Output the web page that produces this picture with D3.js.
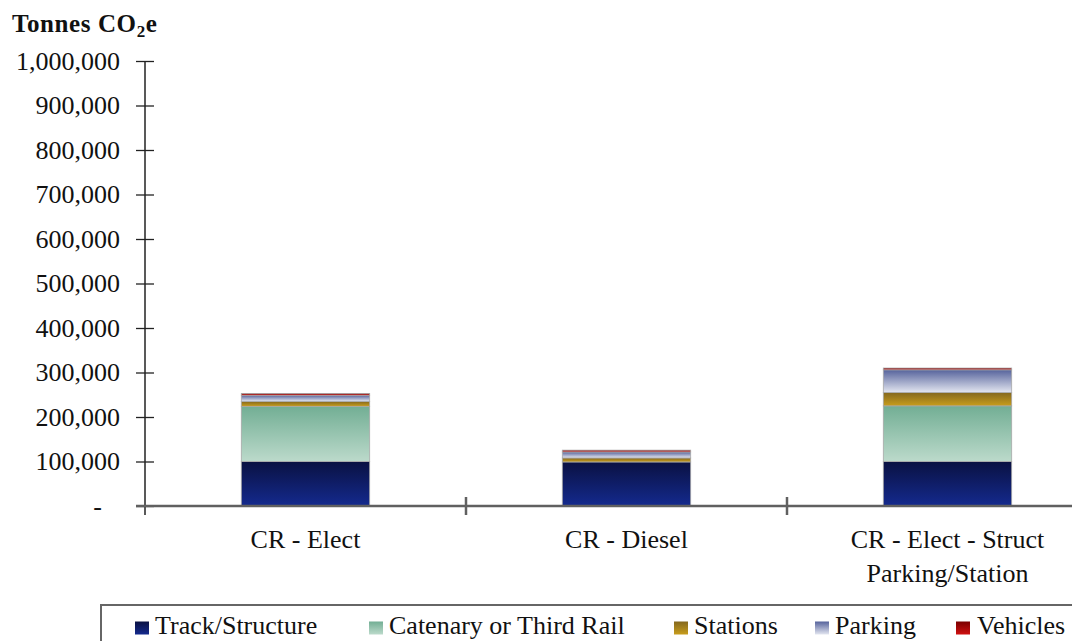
<!DOCTYPE html>
<html>
<head>
<meta charset="utf-8">
<script src="https://cdn.jsdelivr.net/npm/d3@7/dist/d3.min.js"></script>
<style>
  html, body { margin: 0; padding: 0; background: #fff; }
  svg { display: block; font-family: "Liberation Serif", "Times New Roman", serif; }
</style>
</head>
<body>
<svg id="chart" width="1072" height="641"></svg>
<script>
// Embodied emissions by commuter-rail option (tonnes CO2e)
const categories = ["CR - Elect", "CR - Diesel", "CR - Elect - Struct|Parking/Station"];
const seriesNames = ["Track/Structure", "Catenary or Third Rail", "Stations", "Parking", "Vehicles"];
const trackStructure = [100000, 99000, 100000];
const catenary       = [124000, 0, 125000];
const stations       = [11000, 9000, 30000];
const parking        = [14000, 13500, 51000];
const vehicles       = [4000, 4000, 4000];
const yTicks = [0, 100000, 200000, 300000, 400000, 500000, 600000, 700000, 800000, 900000, 1000000];

const seriesValues = [trackStructure, catenary, stations, parking, vehicles];
const gradientStops = [
  ["#0a1142", "#142a8e"],
  ["#72ae94", "#bcdacb"],
  ["#84681e", "#c89d1c"],
  ["#56639c", "#e3e6f0"],
  ["#7a0000", "#d01010"]
];

const svg = d3.select("#chart");
const defs = svg.append("defs");
gradientStops.forEach((s, i) => {
  const g = defs.append("linearGradient")
    .attr("id", "grad" + i).attr("x1", 0).attr("y1", 0).attr("x2", 0).attr("y2", 1);
  g.append("stop").attr("offset", "0%").attr("stop-color", s[0]);
  g.append("stop").attr("offset", "100%").attr("stop-color", s[1]);
});

const rows = categories.map((c, i) => {
  const r = { cat: c };
  seriesNames.forEach((n, k) => r[n] = seriesValues[k][i]);
  return r;
});
const stacked = d3.stack().keys(seriesNames)(rows);

const left = 145, baseY = 506, topY = 61, step = 321;
const x = d3.scaleBand().domain(categories)
  .range([left, left + step * categories.length])
  .paddingInner(0.6).paddingOuter(0.3);
const y = d3.scaleLinear().domain([0, 1000000]).range([baseY, topY]);

// Bars
stacked.forEach((layer, k) => {
  svg.append("g").selectAll("rect").data(layer).join("rect")
    .attr("x", d => x(d.data.cat))
    .attr("width", x.bandwidth())
    .attr("y", d => y(d[1]))
    .attr("height", d => Math.max(0, y(d[0]) - y(d[1])))
    .attr("fill", `url(#grad${k})`)
    .attr("stroke", "#a8a8a8")
    .attr("stroke-width", d => (d[1] - d[0]) > 0 ? 0.8 : 0);
});

// Y axis
const yAxis = d3.axisLeft(y).tickValues(yTicks)
  .tickFormat(v => v === 0 ? "-" : d3.format(",")(v))
  .tickSizeInner(-9).tickSizeOuter(0).tickPadding(0);
const yg = svg.append("g").attr("transform", `translate(${left},0)`).call(yAxis);
yg.select(".domain").remove();
yg.selectAll(".tick line").attr("x1", -9).attr("x2", 9).attr("stroke", "#222").attr("stroke-width", 1.3);
yg.selectAll(".tick text")
  .attr("x", -25).attr("dy", "0.32em")
  .attr("font-size", 26).attr("fill", "#111")
  .attr("font-family", "Liberation Serif, serif")
  .filter(d => d === 0).attr("x", -43);
svg.append("line").attr("x1", left).attr("x2", left)
  .attr("y1", topY).attr("y2", baseY + 9)
  .attr("stroke", "#222").attr("stroke-width", 1.5);

// X axis baseline and category separators
const xEnd = left + step * categories.length;
svg.append("line").attr("x1", left - 9).attr("x2", xEnd)
  .attr("y1", baseY).attr("y2", baseY)
  .attr("stroke", "#606060").attr("stroke-width", 2.5);
const bounds = d3.range(1, categories.length + 1).map(i => left + step * i);
svg.append("g").selectAll("line").data(bounds).join("line")
  .attr("x1", d => d).attr("x2", d => d)
  .attr("y1", baseY - 9).attr("y2", baseY + 9)
  .attr("stroke", "#606060").attr("stroke-width", 2.5);

// Category labels
const labels = svg.append("g").attr("font-size", 26).attr("fill", "#111").attr("text-anchor", "middle");
categories.forEach(c => {
  const t = labels.append("text").attr("x", x(c) + x.bandwidth() / 2).attr("y", 548);
  c.split("|").forEach((line, j) => {
    t.append("tspan").attr("x", x(c) + x.bandwidth() / 2).attr("dy", j === 0 ? 0 : 34).text(line);
  });
});

// Axis title
const title = svg.append("text").attr("x", 12).attr("y", 32)
  .attr("font-size", 25).attr("font-weight", "bold").attr("fill", "#111")
  .attr("letter-spacing", 0.6);
title.append("tspan").text("Tonnes CO");
title.append("tspan").attr("font-size", 17).attr("dy", 5).text("2");
title.append("tspan").attr("dy", -5).text("e");

// Legend
svg.append("rect").attr("x", 101).attr("y", 605).attr("width", 1010).attr("height", 60)
  .attr("fill", "#fff").attr("stroke", "#666").attr("stroke-width", 2);
const legendX = [135, 369, 674, 815, 956];
const lg = svg.append("g").selectAll("g").data(seriesNames).join("g")
  .attr("transform", (d, i) => `translate(${legendX[i]},0)`);
lg.append("rect").attr("x", 0).attr("y", 621.5).attr("width", 14).attr("height", 13)
  .attr("fill", (d, i) => `url(#grad${i})`);
lg.append("text").attr("x", (d, i) => i === 4 ? 21 : 20).attr("y", 634)
  .attr("font-size", 26).attr("fill", "#111").text(d => d);
</script>
</body>
</html>
